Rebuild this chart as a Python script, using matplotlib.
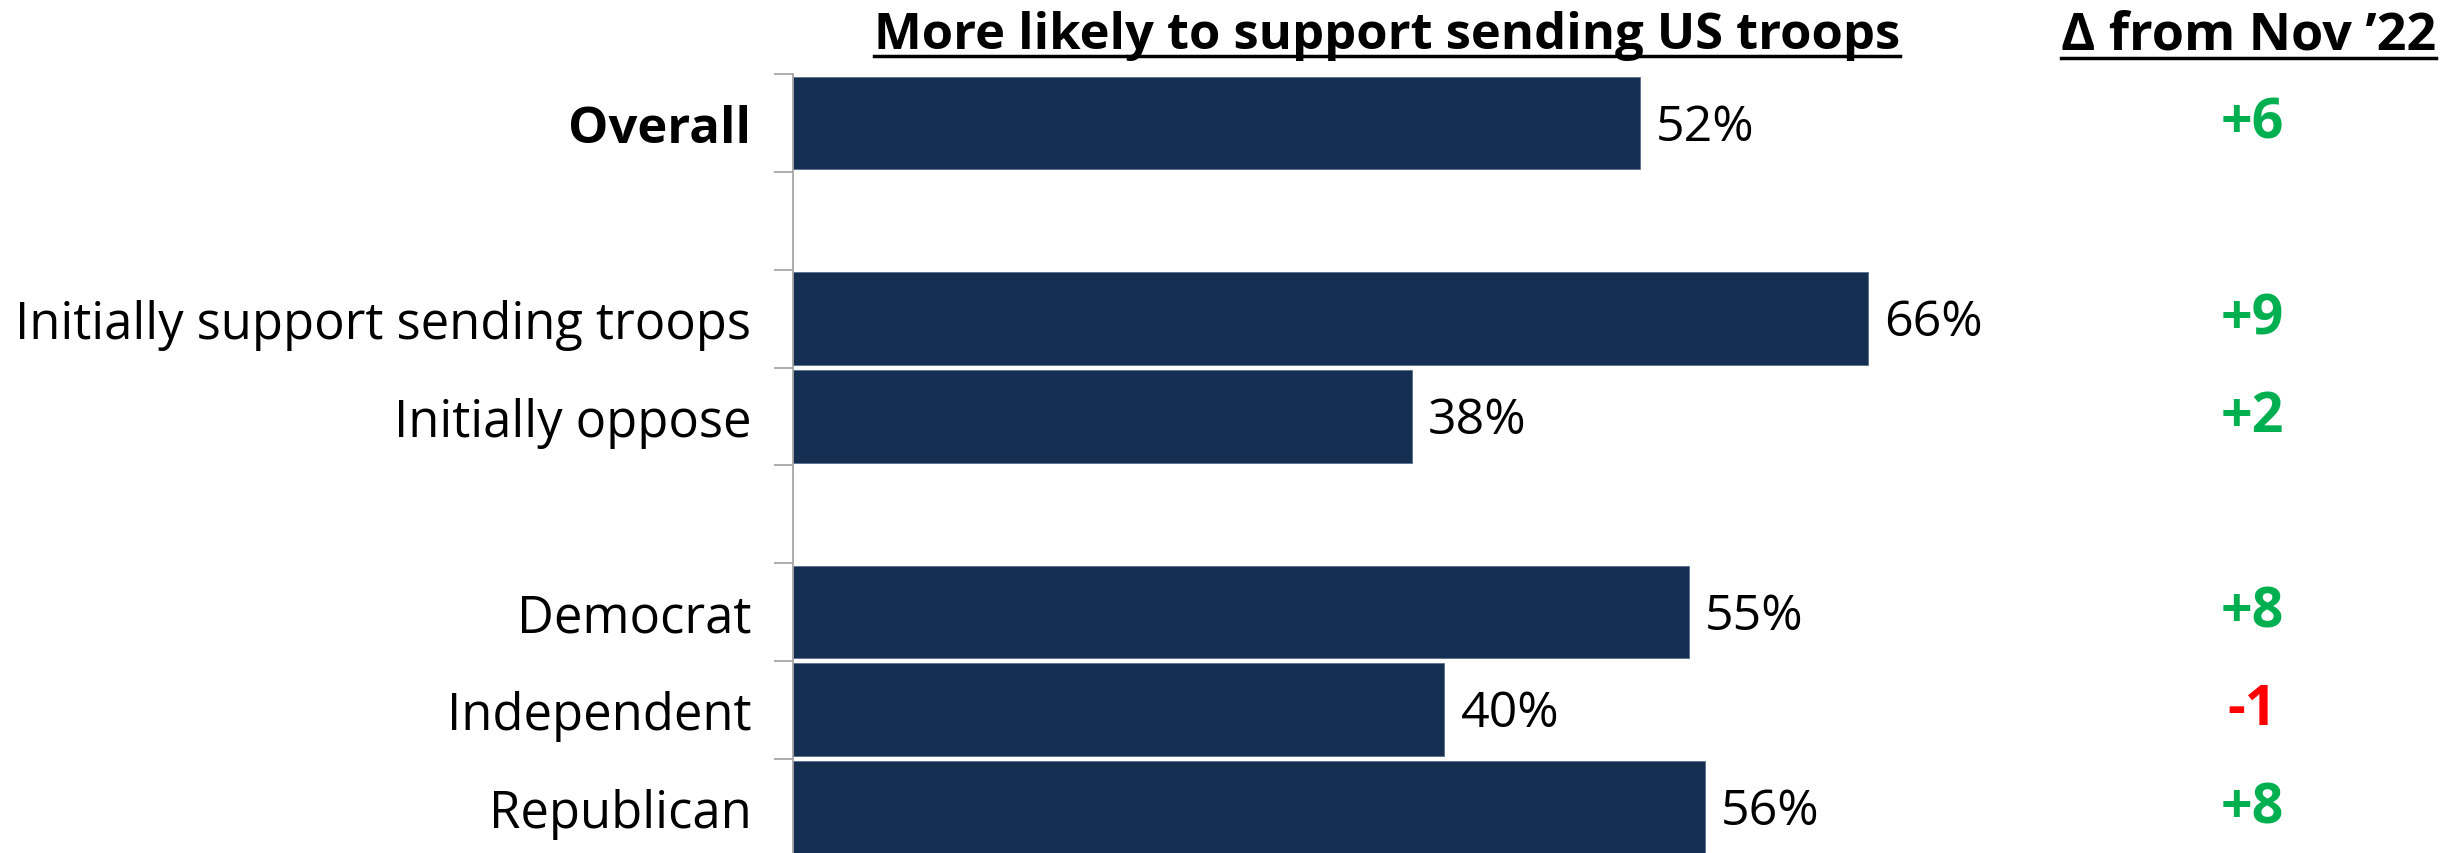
import matplotlib
matplotlib.use("Agg")
import matplotlib.pyplot as plt
from matplotlib.lines import Line2D

# data
groups = ['Overall', 'Initially support sending troops', 'Initially oppose',
          'Democrat', 'Independent', 'Republican']
support = [52, 66, 38, 55, 40, 56]
change = [6, 9, 2, 8, -1, 8]
section_sizes = [1, 2, 3]          # a blank row goes between sections

bar_title = 'More likely to support sending US troops'
change_title = '\u0394 from Nov \u201922'

navy = '#152f52'
green = '#00b050'
red = '#ff0000'
plt.rcParams['font.family'] = ['Open Sans', 'DejaVu Sans']

# row positions with a gap between sections
positions = []
row = 0
for size in section_sizes:
    for _ in range(size):
        positions.append(row)
        row += 1
    row += 1
n_rows = row - 1

fig = plt.figure(figsize=(24.63, 8.54), dpi=100)
ax = fig.add_axes([0.322, -0.004, 0.661, 0.916])

ax.barh(positions, support, height=0.95, color=navy, edgecolor='#5a6f8c', linewidth=0.6)
ax.set_xlim(0, 100)
ax.set_ylim(n_rows - 0.5, -0.5)

for y, v in zip(positions, support):
    ax.text(v + 1.0, y + 0.04, f'{v}%', va='center', ha='left', fontsize=36, color='black')

ax.set_yticks(positions)
ax.set_yticklabels(groups, fontsize=36.5)
ax.get_yticklabels()[0].set_fontweight('bold')
ax.tick_params(axis='y', which='major', length=0, pad=30)
ax.set_yticks([p - 0.5 for p in range(n_rows + 1)], minor=True)
ax.tick_params(axis='y', which='minor', length=14, width=1.2, color='#a0a0a0', direction='out')
ax.set_xticks([])
for side in ['top', 'right', 'bottom']:
    ax.spines[side].set_visible(False)
ax.spines['left'].set_color('#a0a0a0')
ax.spines['left'].set_linewidth(1.2)

# change column, placed in data coordinates of the bar axis
change_x = 89.6
for y, d in zip(positions, change):
    ax.text(change_x, y, f'{d:+d}', va='center', ha='center', fontsize=40,
            fontweight='bold', color=green if d >= 0 else red)

# underlined column headers
t1 = fig.text(0.563, 0.958, bar_title, ha='center', va='center', fontsize=36.5, fontweight='bold')
t2 = fig.text(0.913, 0.958, change_title, ha='center', va='center', fontsize=37.5, fontweight='bold')
fig.canvas.draw()
renderer = fig.canvas.get_renderer()
inv = fig.transFigure.inverted()
for t in (t1, t2):
    bb = t.get_window_extent(renderer).transformed(inv)
    fig.add_artist(Line2D([bb.x0, bb.x1], [bb.y0 + 0.004, bb.y0 + 0.004],
                          color='black', linewidth=2.5, transform=fig.transFigure))

fig.savefig('out.png', dpi=100, facecolor='white')
